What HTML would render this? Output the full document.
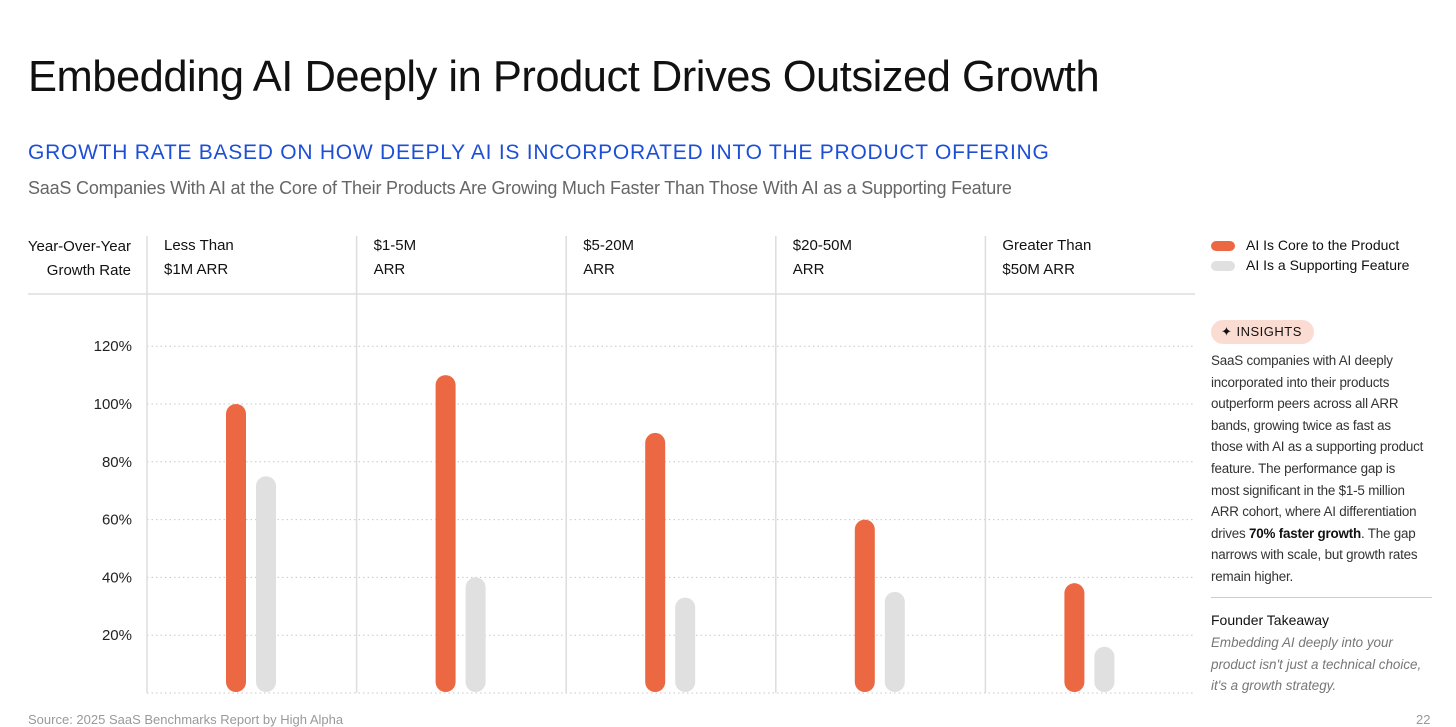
<!DOCTYPE html>
<html><head><meta charset="utf-8">
<style>
body{margin:0;width:1456px;height:725px;background:#fff;font-family:"Liberation Sans",sans-serif;overflow:hidden;position:relative;color:#111}
.abs{position:absolute;white-space:nowrap}
</style></head><body>
<div class="abs" style="left:28px;top:53px;font-size:43.5px;letter-spacing:-0.5px;color:#111">Embedding AI Deeply in Product Drives Outsized Growth</div>
<div class="abs" style="left:28px;top:141px;font-size:21px;color:#1d4fd6;letter-spacing:0.75px">GROWTH RATE BASED ON HOW DEEPLY AI IS INCORPORATED INTO THE PRODUCT OFFERING</div>
<div class="abs" style="left:28px;top:178px;font-size:18px;color:#666;letter-spacing:-0.2px">SaaS Companies With AI at the Core of Their Products Are Growing Much Faster Than Those With AI as a Supporting Feature</div>
<div class="abs" style="left:20px;top:235px;width:111px;text-align:right;font-size:15px;line-height:24px;white-space:normal">Year-Over-Year Growth Rate</div>

<svg id="chart" class="abs" style="left:0;top:0" width="1456" height="725"></svg>

<div class="abs" style="left:1211px;top:235px;font-size:14px;line-height:20px">
<div><span style="display:inline-block;width:24px;height:10px;border-radius:5px;background:#ec6842;margin-right:11px;vertical-align:middle"></span>AI Is Core to the Product</div>
<div><span style="display:inline-block;width:24px;height:10px;border-radius:5px;background:#dfe0df;margin-right:11px;vertical-align:middle"></span>AI Is a Supporting Feature</div>
</div>
<div class="abs" style="left:1211px;top:320px;height:24px;line-height:24px;padding:0 12px 0 10px;border-radius:12px;background:#fbdcd2;font-size:13px;letter-spacing:0.5px">✦ INSIGHTS</div>
<div class="abs" style="left:1211px;top:350px;font-size:13.4px;line-height:21.6px;color:#333;letter-spacing:-0.2px">SaaS companies with AI deeply<br>incorporated into their products<br>outperform peers across all ARR<br>bands, growing twice as fast as<br>those with AI as a supporting product<br>feature. The performance gap is<br>most significant in the $1-5 million<br>ARR cohort, where AI differentiation<br>drives <b style="color:#111">70% faster growth</b>. The gap<br>narrows with scale, but growth rates<br>remain higher.</div>
<div class="abs" style="left:1211px;top:597px;width:221px;height:1px;background:#ccc"></div>
<div class="abs" style="left:1211px;top:612px;font-size:14px">Founder Takeaway</div>
<div class="abs" style="left:1211px;top:632px;width:225px;white-space:normal;font-size:13.4px;line-height:21.6px;font-style:italic;color:#777">Embedding AI deeply into your product isn't just a technical choice, it's a growth strategy.</div>
<div class="abs" style="left:28px;top:712px;font-size:13px;color:#999">Source: 2025 SaaS Benchmarks Report by High Alpha</div>
<div class="abs" style="left:1416px;top:712px;font-size:13px;color:#999">22</div>

<script>
const categories=["Less Than\n$1M ARR","$1-5M\nARR","$5-20M\nARR","$20-50M\nARR","Greater Than\n$50M ARR"];
const coreValues=[100,110,90,60,38];
const supportValues=[75,40,33,35,16];
const yTicks=[20,40,60,80,100,120];
const NS="http://www.w3.org/2000/svg";
const svg=document.getElementById('chart');
const x0=147,colW=209.6,y0=693,pxPer=2.89;
const y=v=>y0-v*pxPer;
const colX=i=>x0+i*colW;
function mk(t,a){const e=document.createElementNS(NS,t);for(const k in a)e.setAttribute(k,a[k]);svg.appendChild(e);return e;}
let l=mk('line',{x1:28,x2:1195,y1:294,y2:294,stroke:'#ddd','stroke-width':1.5});


[0].concat(yTicks).forEach(t=>{
  const g=mk('line',{x1:x0,x2:1195,y1:y(t),y2:y(t),stroke:'#c8c8c8','stroke-width':1,'stroke-dasharray':'1.5 3'});
  
  
  if(t>0){const tx=mk('text',{x:132,y:y(t)+5,'text-anchor':'end','font-size':15,fill:'#222'});tx.textContent=t+'%';
  
  }
});
categories.forEach((c,i)=>{
  const s=mk('line',{x1:colX(i),x2:colX(i),y1:236,y2:y0,stroke:'#ddd','stroke-width':1.5});
  
  
  c.split('\n').forEach((ln,j)=>{const t=mk('text',{x:colX(i)+17,y:250+j*24,'font-size':15,fill:'#111'});t.textContent=ln;
    
    });
  const b1=mk('rect',{x:colX(i)+79,y:y(coreValues[i]),width:20,height:y0-1-y(coreValues[i]),rx:10,fill:'#ec6842'});
  
  
  const b2=mk('rect',{x:colX(i)+109,y:y(supportValues[i]),width:20,height:y0-1-y(supportValues[i]),rx:10,fill:'#dfe0df'});
  
  
});
</script>
</body></html>
